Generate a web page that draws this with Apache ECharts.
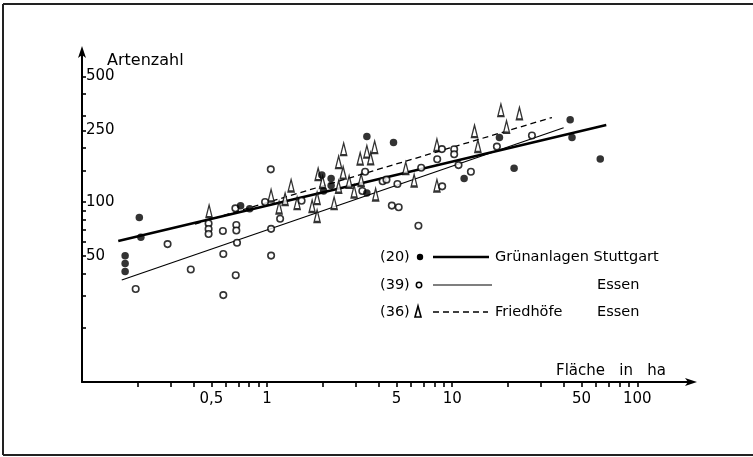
<!DOCTYPE html>
<html>
<head>
<meta charset="utf-8">
<title>Artenzahl und Fläche</title>
<script src="https://cdn.jsdelivr.net/npm/echarts@6/dist/echarts.min.js"></script>
<style>
    html, body { margin: 0; padding: 0; background: #fff; }
    #chart { width: 753px; height: 457px; }
</style>
</head>
<body>
<div id="chart"></div>
<script>
// Artenzahl gegen Fläche, doppelt logarithmisch

// [Fläche in ha, Artenzahl]
const stuttgartPoints = [
    [0.171, 50.3], [0.171, 45.6], [0.171, 41.1], [0.204, 82.2], [0.208, 63.7],
    [0.719, 95.3], [0.805, 91.7], [1.975, 141.3], [2.218, 135.4], [2.218, 123.5],
    [2.02, 115.1], [3.46, 231.7], [3.46, 112.2], [4.82, 214.6], [11.6, 135.1],
    [18.0, 228.2], [21.6, 153.9], [43.4, 286.6], [44.4, 228.8], [63.1, 173.3]
];

const essenPoints = [
    [0.195, 32.9], [0.29, 58.4], [0.387, 42.2], [0.483, 76.0], [0.483, 70.8],
    [0.483, 66.4], [0.577, 69.0], [0.58, 51.4], [0.58, 30.4], [0.674, 92.3],
    [0.682, 74.5], [0.682, 69.5], [0.688, 59.4], [0.677, 39.2], [0.975, 100],
    [1.047, 152.0], [1.176, 80.8], [1.051, 71.0], [1.051, 50.4], [1.536, 101.7],
    [3.27, 115.1], [3.386, 147.3], [4.21, 130.5], [4.415, 133.2], [4.72, 95.6],
    [5.14, 93.5], [5.06, 125.9], [6.57, 73.8], [6.8, 155.1], [8.3, 172.9],
    [8.8, 197.0], [10.25, 196.5], [10.25, 184.3], [10.82, 160.5], [12.62, 147.3],
    [8.83, 122.3], [17.44, 203.4], [26.97, 234.2]
];

const friedhoefePoints = [
    [0.486, 89.1], [1.051, 108.7], [1.161, 93.2], [1.348, 123.5], [1.251, 103.9],
    [1.453, 98.7], [1.751, 95.0], [1.863, 105.2], [1.863, 83.6], [1.887, 143.0],
    [1.995, 129.2], [2.302, 98.7], [2.435, 166.8], [2.592, 197.0], [2.576, 145.8],
    [2.435, 121.6], [2.775, 129.7], [2.953, 114.4], [3.183, 174.4], [3.223, 132.5],
    [3.459, 190.8], [3.626, 174.8], [3.811, 202.1], [3.859, 110.1], [5.61, 154.5],
    [6.23, 131.7], [8.27, 207.4], [8.27, 123.5], [13.2, 248.0], [13.77, 204.8],
    [18.33, 324.5], [19.66, 262.0], [23.08, 311.1]
];

// Ausgleichsgeraden: Anfangs- und Endpunkt
const stuttgartLine = [[0.157, 60.7], [68, 268]];
const essenLine = [[0.164, 36.9], [40, 259]];
const friedhoefeLine = [[0.408, 75.5], [34.6, 295]];

// Achsen
const xTicks = [0.2, 0.3, 0.4, 0.5, 0.6, 0.7, 0.8, 0.9, 1, 2, 3, 4, 5, 6, 7, 8, 9,
    10, 20, 30, 40, 50, 60, 70, 80, 90, 100];
const xLabels = [0.5, 1, 5, 10, 50, 100];
const yTicks = [20, 30, 40, 50, 60, 70, 80, 90, 100, 150, 200, 250, 300, 400, 500];
const yLabels = [50, 100, 250, 500];

const FONT = '"DejaVu Sans", "Liberation Sans", sans-serif';
const TRIANGLE = 'path://M5,0 L10,22 L0,22 Z';

function initializeChart() {
    const chart = echarts.init(document.getElementById('chart'));

    const legendText = (x, y, text) => ({
        type: 'text',
        style: { text: text, x: x, y: y, font: '14.5px ' + FONT, fill: '#000', verticalAlign: 'middle' }
    });

    const option = {
        backgroundColor: '#fff',
        animation: false,
        grid: {
            left: 82,
            right: 60,
            top: 50,
            bottom: 75,
            outerBoundsMode: 'none'
        },
        xAxis: {
            type: 'log',
            logBase: 10,
            min: 0.1,
            max: 200,
            splitLine: { show: false },
            axisLine: {
                lineStyle: { color: '#000', width: 2 },
                symbol: ['none', 'arrow'],
                symbolSize: [6, 12],
                symbolOffset: [0, 4]
            },
            axisTick: {
                show: true,
                inside: false,
                length: 5,
                customValues: xTicks,
                lineStyle: { color: '#000', width: 1.6 }
            },
            axisLabel: {
                customValues: xLabels,
                margin: 10,
                color: '#000',
                fontFamily: FONT,
                fontSize: 15,
                formatter: v => String(v).replace('.', ',')
            }
        },
        yAxis: {
            type: 'log',
            logBase: 10,
            min: 10,
            max: 700,
            splitLine: { show: false },
            axisLine: {
                lineStyle: { color: '#000', width: 2 },
                symbol: ['none', 'arrow'],
                symbolSize: [6, 12],
                symbolOffset: [0, 4]
            },
            axisTick: {
                show: true,
                inside: true,
                length: 4,
                customValues: yTicks,
                lineStyle: { color: '#000', width: 1.6 }
            },
            axisLabel: {
                customValues: yLabels,
                inside: true,
                margin: 4,
                color: '#000',
                fontFamily: FONT,
                fontSize: 15
            }
        },
        series: [
            {
                name: 'Grünanlagen Stuttgart',
                type: 'line',
                data: stuttgartLine,
                symbol: 'none',
                lineStyle: { color: '#000', width: 2.5 },
                z: 2
            },
            {
                name: 'Essen',
                type: 'line',
                data: essenLine,
                symbol: 'none',
                lineStyle: { color: '#000', width: 1.2 },
                z: 2
            },
            {
                name: 'Friedhöfe Essen',
                type: 'line',
                data: friedhoefeLine,
                symbol: 'none',
                lineStyle: { color: '#000', width: 1.3, type: [6, 4] },
                z: 2
            },
            {
                name: 'Friedhöfe Essen Punkte',
                type: 'scatter',
                data: friedhoefePoints,
                symbol: TRIANGLE,
                symbolSize: [6, 12],
                itemStyle: { color: '#fff', borderColor: '#000', borderWidth: 1.7 },
                z: 3
            },
            {
                name: 'Essen Punkte',
                type: 'scatter',
                data: essenPoints,
                symbol: 'circle',
                symbolSize: 6.5,
                itemStyle: { color: '#fff', borderColor: '#000', borderWidth: 1.6 },
                z: 3
            },
            {
                name: 'Stuttgart Punkte',
                type: 'scatter',
                data: stuttgartPoints,
                symbol: 'circle',
                symbolSize: 7.5,
                itemStyle: { color: '#000' },
                z: 4
            }
        ],
        graphic: [
            // Rahmen
            { type: 'line', shape: { x1: 3, y1: 4, x2: 753, y2: 4 }, style: { stroke: '#222', lineWidth: 2 } },
            { type: 'line', shape: { x1: 3, y1: 4, x2: 3, y2: 455 }, style: { stroke: '#222', lineWidth: 2 } },
            { type: 'line', shape: { x1: 3, y1: 455, x2: 753, y2: 455 }, style: { stroke: '#222', lineWidth: 2 } },
            // Achsentitel
            {
                type: 'text',
                style: { text: 'Artenzahl', x: 107, y: 61, font: '16px ' + FONT, fill: '#000', verticalAlign: 'middle' }
            },
            {
                type: 'text',
                style: { text: 'Fläche   in   ha', x: 556, y: 371, font: '15px ' + FONT, fill: '#000', verticalAlign: 'middle' }
            },
            // Legende
            legendText(380, 257, '(20)'),
            { type: 'circle', shape: { cx: 420, cy: 257, r: 3.2 }, style: { fill: '#000' } },
            { type: 'line', shape: { x1: 433, y1: 257, x2: 489, y2: 257 }, style: { stroke: '#000', lineWidth: 2.5 } },
            legendText(495, 257, 'Grünanlagen Stuttgart'),
            legendText(380, 285, '(39)'),
            { type: 'circle', shape: { cx: 419, cy: 285, r: 2.7 }, style: { fill: '#fff', stroke: '#000', lineWidth: 1.5 } },
            { type: 'line', shape: { x1: 433, y1: 285, x2: 492, y2: 285 }, style: { stroke: '#000', lineWidth: 1.2 } },
            legendText(597, 285, 'Essen'),
            legendText(380, 312, '(36)'),
            { type: 'polygon', shape: { points: [[418, 306], [421, 317], [415, 317]] }, style: { fill: '#fff', stroke: '#000', lineWidth: 1.6 } },
            { type: 'line', shape: { x1: 433, y1: 312, x2: 488, y2: 312 }, style: { stroke: '#000', lineWidth: 1.3, lineDash: [6, 4] } },
            legendText(495, 312, 'Friedhöfe'),
            legendText(597, 312, 'Essen')
        ]
    };

    chart.setOption(option);
}

document.addEventListener('DOMContentLoaded', initializeChart);
</script>
</body>
</html>
